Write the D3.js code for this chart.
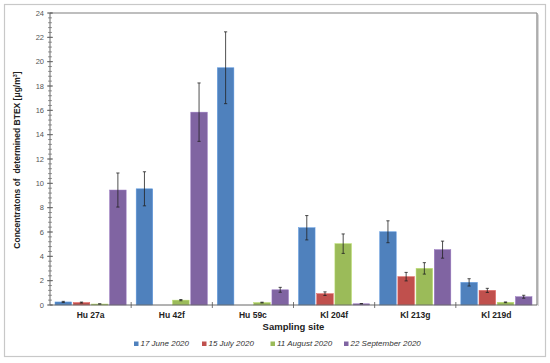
<!DOCTYPE html>
<style>
    body{ margin:0; background:#fff; }
    svg{ font-family:"Liberation Sans", Arial, sans-serif; }
</style>
<svg width="550" height="363"></svg>
<script src="https://cdn.jsdelivr.net/npm/d3@7"></script>
<script>
    var svg=d3.select("svg");

    var sites=["Hu 27a","Hu 42f","Hu 59c","Kl 204f","Kl 213g","Kl 219d"];
    var series=["17 June 2020","15 July 2020","11 August 2020","22 September 2020"];
    var colors=["#4f81bd","#c0504d","#9bbb59","#8064a2"];
    // values per series, one per site
    var june=[0.25,9.55,19.5,6.35,6.02,1.86];
    var july=[0.2,0,0,0.93,2.33,1.2];
    var august=[0.08,0.4,0.2,5.04,3.01,0.22];
    var september=[9.45,15.85,1.25,0.1,4.55,0.68];
    // error (+/-)
    var juneErr=[0.05,1.4,2.95,1.0,0.9,0.3];
    var julyErr=[0.04,0,0,0.15,0.35,0.17];
    var augustErr=[0.02,0.05,0.03,0.8,0.47,0.03];
    var septemberErr=[1.4,2.4,0.2,0.02,0.7,0.12];
    var yTicks=[0,2,4,6,8,10,12,14,16,18,20,22,24];

    var vals=[june,july,august,september];
    var errs=[juneErr,julyErr,augustErr,septemberErr];

    var pLeft=50,pRight=537,pTop=13,pBottom=305;

    // outer frame
    svg.append("rect").attr("x",4.5).attr("y",4.5).attr("width",541).attr("height",352)
        .attr("fill","none").attr("stroke","#c8c8c8").attr("stroke-width",1.2);

    var x0=d3.scaleBand().domain(sites).range([pLeft,pRight]).paddingInner(0).paddingOuter(0);
    var x1=d3.scaleBand().domain(d3.range(series.length)).range([5,x0.bandwidth()-5]).paddingInner(0.09);
    var y=d3.scaleLinear().domain([0,24]).range([pBottom,pTop]);

    // plot frame (top + right with shadow)
    svg.append("line").attr("x1",pLeft).attr("x2",pRight).attr("y1",pTop).attr("y2",pTop)
        .attr("stroke","#a8a8a8").attr("stroke-width",1.3);
    svg.append("line").attr("x1",pRight+1.2).attr("x2",pRight+1.2).attr("y1",pTop+1.5).attr("y2",pBottom+1)
        .attr("stroke","#d0d0d0").attr("stroke-width",1.3);
    svg.append("line").attr("x1",pRight).attr("x2",pRight).attr("y1",pTop).attr("y2",pBottom)
        .attr("stroke","#8c8c8c").attr("stroke-width",1.3);

    var groups=svg.selectAll("g.site")
        .data(sites)
        .enter().append("g")
        .attr("class","site")
        .attr("transform",function(d){ return "translate("+x0(d)+",0)"; });

    series.forEach(function(s,si){
        groups.append("rect")
            .attr("x",x1(si))
            .attr("width",x1.bandwidth())
            .attr("y",function(d,i){ return y(vals[si][i]); })
            .attr("height",function(d,i){ return y(0)-y(vals[si][i]); })
            .attr("fill",colors[si])
            .attr("stroke",d3.color(colors[si]).brighter(0.5))
            .attr("stroke-width",0.5);
    });

    // error bars
    series.forEach(function(s,si){
        groups.each(function(d,i){
            var v=vals[si][i], e=errs[si][i];
            if(v<=0) return;
            var cx=x1(si)+x1.bandwidth()/2;
            var g=d3.select(this);
            g.append("line").attr("x1",cx).attr("x2",cx).attr("y1",y(v+e)).attr("y2",y(v-e))
                .attr("stroke","#222").attr("stroke-width",0.8);
            [v+e,v-e].forEach(function(t){
                g.append("line").attr("x1",cx-1.6).attr("x2",cx+1.6).attr("y1",y(t)).attr("y2",y(t))
                    .attr("stroke","#222").attr("stroke-width",0.8);
            });
        });
    });

    // y axis
    var minor=d3.range(0,24.01,0.4);
    svg.append("g").selectAll("line").data(minor).enter().append("line")
        .attr("x1",pLeft-2).attr("x2",pLeft+2)
        .attr("y1",function(d){ return y(d); }).attr("y2",function(d){ return y(d); })
        .attr("stroke","#555").attr("stroke-width",0.6);
    svg.append("g").selectAll("line").data(yTicks).enter().append("line")
        .attr("x1",pLeft-3).attr("x2",pLeft+3)
        .attr("y1",function(d){ return y(d); }).attr("y2",function(d){ return y(d); })
        .attr("stroke","#555").attr("stroke-width",0.8);
    svg.append("line").attr("x1",pLeft).attr("x2",pLeft).attr("y1",pTop).attr("y2",pBottom)
        .attr("stroke","#666").attr("stroke-width",1);
    svg.append("g").selectAll("text").data(yTicks).enter().append("text")
        .attr("x",44).attr("y",function(d){ return y(d); }).attr("dy","0.35em")
        .attr("text-anchor","end").attr("font-size",7.5).attr("fill","#555")
        .text(function(d){ return d; });

    // x axis
    svg.append("line").attr("x1",pLeft).attr("x2",pRight).attr("y1",pBottom).attr("y2",pBottom)
        .attr("stroke","#666").attr("stroke-width",1);
    svg.append("g").selectAll("line").data(sites.slice(1)).enter().append("line")
        .attr("x1",function(d){ return x0(d); }).attr("x2",function(d){ return x0(d); })
        .attr("y1",pBottom-3).attr("y2",pBottom+3)
        .attr("stroke","#555").attr("stroke-width",0.8);
    svg.append("g").selectAll("text").data(sites).enter().append("text")
        .attr("x",function(d){ return x0(d)+x0.bandwidth()/2; }).attr("y",318)
        .attr("text-anchor","middle").attr("font-size",8.5).attr("font-weight","bold").attr("fill","#222")
        .text(function(d){ return d; });

    svg.append("text").attr("x",(pLeft+pRight)/2).attr("y",330)
        .attr("text-anchor","middle").attr("font-size",9.5).attr("font-weight","bold").attr("fill","#222")
        .text("Sampling site");

    var yl=svg.append("text").attr("transform","translate(20,160) rotate(-90)")
        .attr("text-anchor","middle").attr("font-size",8.5).attr("font-weight","bold").attr("fill","#222")
        .attr("xml:space","preserve");
    yl.append("tspan").text("Concentratons of  determined BTEX [\u03bcg/m");
    yl.append("tspan").attr("font-size",5.5).attr("dy",-3.5).text("3");
    yl.append("tspan").attr("dy",3.5).text("]");

    // legend
    var legX=[134,202,270.5,344];
    var leg=svg.append("g").selectAll("g").data(series).enter().append("g")
        .attr("transform",function(d,i){ return "translate("+legX[i]+",346)"; });
    leg.append("rect").attr("x",0).attr("y",-4.5).attr("width",4.5).attr("height",4.5)
        .attr("fill",function(d,i){ return colors[i]; });
    leg.append("text").attr("x",6.5).attr("y",0).attr("font-size",8).attr("font-style","italic").attr("fill","#333")
        .text(function(d){ return d; });
</script>
